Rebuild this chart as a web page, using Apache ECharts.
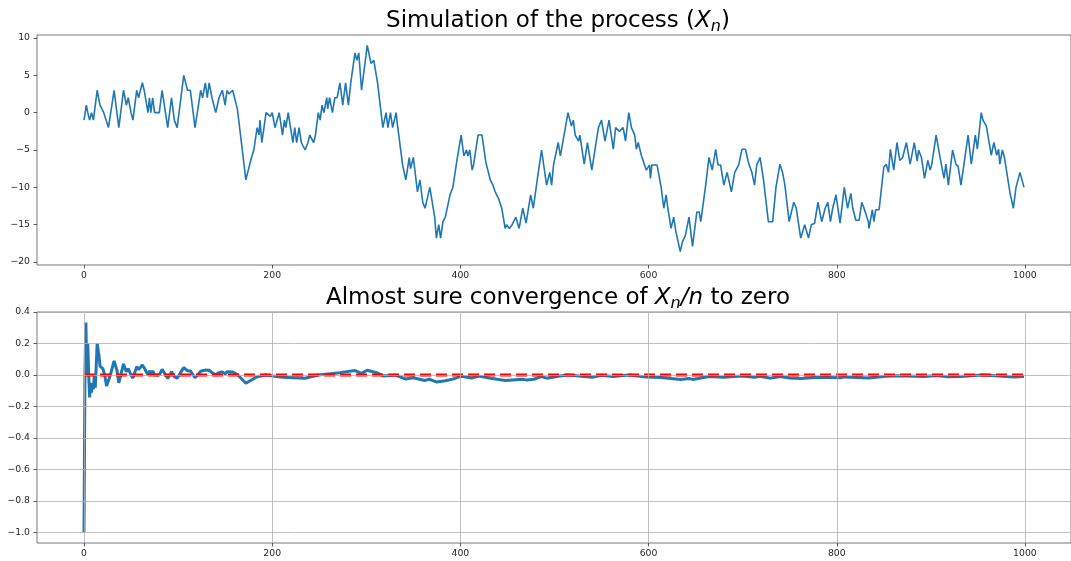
<!DOCTYPE html>
<html><head><meta charset="utf-8">
<script src="https://cdn.jsdelivr.net/npm/echarts@6/dist/echarts.min.js"></script>
<style>html,body{margin:0;padding:0;background:#fff}#c{width:1071px;height:561px}</style>
</head><body><div id="c"></div>
<script>
// ---- Data ----
// Top: the process X_n (waypoints of the walk)
const topN = [0,2.5,4,6,8,10,14,17,21,26,32,37,42,45,47,50,52,56,58,62,64,68,69.5,71,73,75,80,83,85,89,93,96,99,106,110,113,116,118,124,126,129,131,133,136,140,143.5,147,150,152,154,158,160,163,172,176,178,180.5,184,186,187,189,193.5,198,200,203,207.5,211,213,214.5,217,222,224,226,228.6,231,235,238,240,244,246,249,251,253,255,258,259,261,264,266.6,269,272,275,278,281,283.5,288,290,292,295,301,305,308,312,317.6,321,323,325.7,328,331.7,333,338.6,342,345.7,347,350,354.4,357,360,362.5,365.7,367.5,372.7,374.5,377,379,381.5,384,389,392,396.6,400.8,403.7,406.5,408,410,412.5,414,418.8,423,427,431.8,434.6,437,440.6,444,447.6,449,452,455,459,462.4,466.3,469.8,474.7,477.5,482.8,486.3,491.6,495,497,499,504,506.3,514.4,518,520,522,525.6,527,531.6,535,539.7,541,546.7,550,553.7,558,562.5,565,569,573,575.5,579,581.8,585.3,587,589,592.3,594,597.6,601,602,603.5,609,613.4,616.2,618.7,620.5,623.9,626.7,629,633.7,636,639,643,646.7,651.3,653.8,655.5,660.7,664.2,667.7,671.3,673.8,676.5,680,683.5,688,691.6,695.8,699.3,703,706,709.8,712.6,715,718.5,722,727.3,731.9,735.4,739.6,742.4,744.9,749.4,751,754.3,757,758,761.7,765.9,770,773,776.5,780,784,787.7,790.5,793.3,795.7,799.2,803.5,808,811.5,815,817,820.3,823.8,826.6,829,833.6,834.3,837.8,839.5,841.4,845,850,852.6,855,857,860.6,864,867,870,874,878,882.4,885.5,887,890,893.3,896.8,899.3,901,905.6,909.8,914,916,918.6,923.1,926.6,929,932,939.6,943,947.3,949.4,953.6,955.4,959,964.2,967,970,972,973.3,976,978.2,984.2,985.5,987.7,990.5,994.7,996,999];
const topX = [-1,1,0,-1,0,-1,3,1,0,-2,3,-2,3,1,2,0,-1,3,2,4,3,0,2,0,2,0,0,3,3,-2,2,-1,-2,5,3,3,0,-2,3,2,4,2,4,2,0,2,3,1,3,2.5,3,3,0.5,-9,-7,-6,-5,-2,-3,-1,-4,0,-0.5,0,-2,0,-3,-1,-2,0,-4,-2,-4,-2,-4,-5,-4,-3,-4,-3,0,-1,1,0,2,0.5,2,0,2,2,4,1,4,1,4,8,7,8,3,9,6.6,7,4,-2,0,-2,0,-2,0,-1.5,-7,-9,-6,-7.5,-6,-10.6,-9,-12,-12.8,-11,-10,-14,-16.8,-15,-16.8,-14.6,-14,-11,-10,-6.2,-3,-5.8,-5,-5.8,-5,-7.7,-7,-3,-3,-6.6,-9,-9.7,-10.6,-11.5,-12.8,-15.5,-15,-15.5,-15,-14,-15.5,-12.8,-14.8,-11,-12.8,-8,-5,-9.7,-8,-9.7,-7,-4,-5.8,0,-1.8,-1,-3,-3.8,-3,-6.9,-4,-7.7,-7.7,-2,-1,-3.8,-1,-4.9,-2,-2.5,-2,-3.8,0,-2,-3,-4.9,-4,-5.7,-5.7,-7.7,-7,-8.8,-7,-7,-10,-12.8,-11,-12.8,-15.5,-14,-15.9,-18.6,-17.3,-16.5,-14,-17.9,-13.3,-13.3,-14.6,-9.7,-6,-7.7,-4.9,-7,-7,-9.7,-8,-10.6,-8,-7,-4.9,-4.9,-6.6,-8,-9.7,-7,-6,-8.8,-14.6,-14.6,-10,-6.9,-8,-9.7,-14.6,-14.6,-12,-12.8,-13.7,-16.8,-15,-16.8,-15,-14.8,-12,-14.6,-12.8,-12,-14.6,-12.8,-11,-14.8,-10,-12.8,-10.8,-12.8,-14.4,-14.4,-12,-12.8,-14.6,-15.5,-13,-14.6,-13,-13,-7.3,-6.9,-8,-4.9,-7.7,-4,-6.4,-6,-4,-6.9,-4,-6.5,-5,-6,-8.8,-6.4,-7.7,-6.9,-3,-6,-8.8,-6.9,-9.7,-5,-6.9,-7.2,-9.7,-3,-6.9,-3,-4.9,0,-1,-1.8,-5.7,-4,-5.7,-4.9,-6.9,-5,-6,-10.8,-10.8,-12.8,-10,-8,-8,-10];
// Bottom: X_n / n
const botN = [0,1,2,3,4,5,6,7,8,9,10,11,12,14,16,17,20,22,24,26,28,32,35,37,42,45,47,50,52,56,58,62,64,68,70,71,73,75,80,83,85,89,93,96,99,106,110,113,116,118,124,129,133,136,140,143,147,150,152,158,160,163,172,184,193,211,222,235,249,272,288,295,301,312,318,331,342,350,362,367,375,384,392,401,412,420,432,448,459,466,470,478,486,492,504,514,526,540,550,562,579,597,613,634,643,647,664,680,699,713,718,730,740,750,762,780,804,808,834,852,864,893,906,918,932,954,973,988,999];
const botR = [-1,0,0.333,0,0.2,0,-0.143,-0.05,-0.111,-0.05,-0.09,0,-0.08,0.2,0.12,0.056,0.04,0,-0.07,-0.077,0,0.09,0.03,-0.05,0.07,0.02,0.04,0,-0.02,0.053,0.034,0.063,0.046,0,0.028,0,0.027,0,0,0.036,0.035,-0.022,0.021,-0.01,-0.02,0.047,0.027,0.026,0,-0.017,0.024,0.031,0.03,0.015,0,0.014,0.02,0.007,0.02,0.019,0.019,0.003,-0.052,-0.011,0,-0.014,-0.018,-0.021,0,0.015,0.028,0.01,0.03,0.013,-0.006,0,-0.026,-0.017,-0.035,-0.027,-0.045,-0.036,-0.026,-0.0075,-0.019,-0.007,-0.021,-0.035,-0.03,-0.027,-0.031,-0.027,-0.01,-0.02,-0.008,0,-0.007,-0.014,-0.002,-0.009,0,-0.013,-0.016,-0.029,-0.022,-0.028,-0.009,-0.014,-0.007,-0.014,-0.008,-0.02,-0.009,-0.019,-0.022,-0.015,-0.018,-0.012,-0.019,-0.008,-0.005,-0.01,-0.003,-0.011,-0.01,0,-0.007,-0.013,-0.01];
const zeroN = [0, 999];
const zeroV = [0, 0];
// Tick labels
const xTicks = [0, 200, 400, 600, 800, 1000];
const topYTicks = [-20, -15, -10, -5, 0, 5, 10];
const botYTicks = [-1.0, -0.8, -0.6, -0.4, -0.2, 0.0, 0.2, 0.4];
const title1 = 'Simulation of the process (';
const title2a = 'Almost sure convergence of ';
const title2b = ' to zero';

// ---- Chart ----
const FONT = 'DejaVu Sans';
const minus = s => String(s).replace('-', '\u2212');
const zip = (a, b) => a.map((v, i) => [v, b[i]]);
const chart = echarts.init(document.getElementById('c'), null, {renderer: 'canvas'});

const axisCommon = {
  axisLine: {show: false, onZero: false},
  axisTick: {show: true, length: 3.5, lineStyle: {color: '#333', width: 0.8}},
  axisLabel: {color: '#262626', fontFamily: FONT, fontSize: 9.3, margin: 7},
  splitLine: {show: false}
};
const gridLineStyle = {color: '#b0b0b0', width: 0.8, type: 'solid'};

const richT = {
  a: {fontFamily: FONT, fontSize: 23, color: '#0000ff'},
  i: {fontFamily: FONT, fontSize: 23, fontStyle: 'italic', color: '#0000ff'},
  s: {fontFamily: FONT, fontSize: 16, fontStyle: 'italic', color: '#0000ff', padding: [12, 0, 0, 0]}
};

chart.setOption({
  animation: false,
  backgroundColor: '#fff',
  grid: [
    {left: 37, top: 35, width: 1042, height: 230, show: true, borderColor: '#555', borderWidth: 0.8, backgroundColor: 'transparent'},
    {left: 37, top: 312, width: 1042, height: 231, show: true, borderColor: '#555', borderWidth: 0.8, backgroundColor: 'transparent'}
  ],
  xAxis: [0, 1].map(g => Object.assign({}, axisCommon, {
    type: 'value', gridIndex: g, min: -49.95, max: 1048.95,
    axisTick: Object.assign({}, axisCommon.axisTick, {customValues: xTicks}),
    axisLabel: Object.assign({}, axisCommon.axisLabel, {customValues: xTicks, margin: 6, formatter: v => minus(Math.round(v))})
  })),
  yAxis: [
    Object.assign({}, axisCommon, {
      type: 'value', gridIndex: 0, min: -20.4, max: 10.4,
      axisTick: Object.assign({}, axisCommon.axisTick, {customValues: topYTicks}),
      axisLabel: Object.assign({}, axisCommon.axisLabel, {customValues: topYTicks, formatter: v => minus(Math.round(v))})
    }),
    Object.assign({}, axisCommon, {
      type: 'value', gridIndex: 1, min: -1.0667, max: 0.4,
      axisTick: Object.assign({}, axisCommon.axisTick, {customValues: botYTicks}),
      axisLabel: Object.assign({}, axisCommon.axisLabel, {customValues: botYTicks, formatter: v => minus(v.toFixed(1))})
    })
  ],
  graphic: [
    {type: 'text', x: 558, y: 21, silent: true, style: {
      text: '{a|' + title1 + '}{i|X}{s|n}{a|)}', rich: richT, align: 'center', verticalAlign: 'middle'}},
    {type: 'text', x: 558, y: 298, silent: true, style: {
      text: '{a|' + title2a + '}{i|X}{s|n}{i|/n}{a|' + title2b + '}', rich: richT, align: 'center', verticalAlign: 'middle'}}
  ],
  series: [
    {type: 'line', xAxisIndex: 0, yAxisIndex: 0, data: zip(topN, topX), showSymbol: false, symbol: 'none',
     lineStyle: {color: '#1f77b4', width: 1.6}, z: 3},
    // grid lines of the lower panel
    {type: 'line', xAxisIndex: 1, yAxisIndex: 1, data: [], symbol: 'none', z: 1, silent: true,
     markLine: {silent: true, symbol: 'none', label: {show: false}, lineStyle: gridLineStyle, animation: false,
       data: xTicks.map(v => ({xAxis: v})).concat(botYTicks.map(v => ({yAxis: v})))}},
    {type: 'line', xAxisIndex: 1, yAxisIndex: 1, data: zip(botN, botR), showSymbol: false, symbol: 'none',
     lineStyle: {color: '#1f77b4', width: 3}, z: 3},
    {type: 'line', xAxisIndex: 1, yAxisIndex: 1, data: zip(zeroN, zeroV), showSymbol: false, symbol: 'none',
     lineStyle: {color: '#ff0000', width: 3, type: [11, 5]}, z: 4}
  ]
});
</script></body></html>
